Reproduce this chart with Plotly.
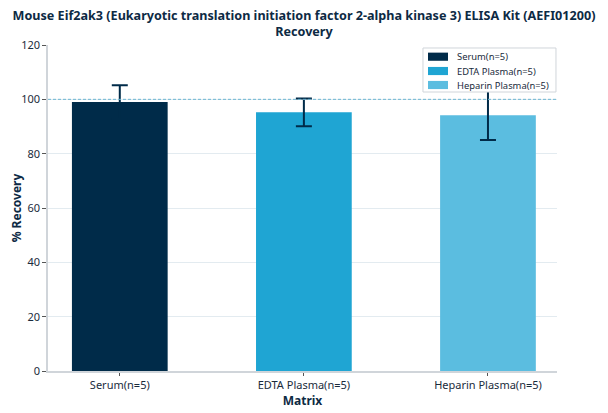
import plotly.graph_objects as go

categories = ["Serum(n=5)", "EDTA Plasma(n=5)", "Heparin Plasma(n=5)"]
recovery = [99.0, 95.2, 94.1]
errors = [6.2, 5.1, 9.1]
colors = ["#002b49", "#1fa5d3", "#5bbde0"]
yticks = [0, 20, 40, 60, 80, 100, 120]

fig = go.Figure()
for cat, val, err, col in zip(categories, recovery, errors, colors):
    fig.add_trace(go.Bar(
        x=[cat], y=[val], name=cat, marker=dict(color=col, line=dict(width=0)),
        width=0.52, showlegend=False,
        error_y=dict(type="data", array=[err], visible=True, color="#002b49",
                     thickness=2, width=8),
    ))

fig.add_hline(y=100, line=dict(color="#6db6d2", width=1, dash="3px,2px"))

# legend box (drawn as shapes/annotations, paper coordinates)
fig.add_shape(type="rect", xref="paper", yref="paper", x0=0.7367, x1=0.998,
              y0=0.8558, y1=0.9908, fillcolor="white",
              line=dict(color="#d0d5da", width=1), layer="above")
row_y = [0.9641, 0.9202, 0.8773]
for cat, col, ry in zip(categories, colors, row_y):
    fig.add_shape(type="rect", xref="paper", yref="paper", x0=0.7466, x1=0.7859,
                  y0=ry - 0.0125, y1=ry + 0.0125, fillcolor=col,
                  line=dict(width=0), layer="above")
    fig.add_annotation(x=0.7996, y=ry, xref="paper", yref="paper", text=cat,
                       showarrow=False, xanchor="left", yanchor="middle",
                       font=dict(size=9.4, color="#1a2b3c"))

fig.update_layout(
    width=600, height=405,
    barmode="overlay",
    margin=dict(l=40, r=51, t=37, b=42, autoexpand=False),
    paper_bgcolor="white", plot_bgcolor="white",
    font=dict(family="Noto Sans", color="#1a2b3c", size=11),
    title=dict(text="<b>Mouse Eif2ak3 (Eukaryotic translation initiation factor 2-alpha kinase 3) ELISA Kit (AEFI01200)<br>Recovery</b>",
               x=0.4933, xanchor="center", xref="container", y=0.9704, yanchor="top",
               font=dict(size=12.6, color="#0d2a44")),
    showlegend=False,
    xaxis=dict(title=dict(text="<b>Matrix</b>", font=dict(size=12, color="#0d2a44"), standoff=0),
               range=[-0.39, 2.375], showline=True, linecolor="#d0d5da", linewidth=1.5,
               ticks="outside", tickcolor="#555", ticklen=3, showgrid=False,
               tickfont=dict(size=11), automargin=False),
    yaxis=dict(title=dict(text="<b>% Recovery</b>", font=dict(size=12, color="#0d2a44"), standoff=0),
               range=[0, 120], tickvals=yticks, showline=True, linecolor="#d0d5da", linewidth=1.5,
               ticks="outside", tickcolor="#555", ticklen=4,
               gridcolor="#e3ebf0", gridwidth=1, zeroline=False,
               tickfont=dict(size=11), automargin=False),
)

fig.write_html("out.html")
